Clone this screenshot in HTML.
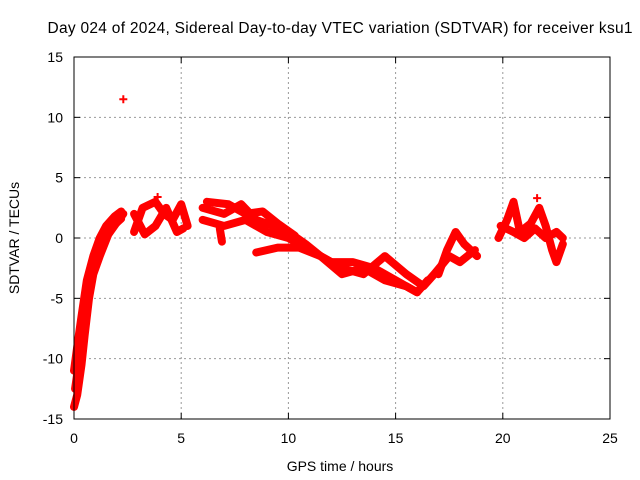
<!DOCTYPE html>
<html><head><meta charset="utf-8"><style>
body{margin:0;background:#fff}
svg{display:block;font-family:"Liberation Sans",sans-serif;font-size:14px}
</style></head><body>
<svg width="640" height="480">
<text x="340" y="33" text-anchor="middle" style="font-size:15.5px" textLength="585">Day 024 of 2024, Sidereal Day-to-day VTEC variation (SDTVAR) for receiver ksu1</text>
<g id="grid"></g>
<g id="ticks"></g>
<g id="marks"></g>
<rect x="74" y="57" width="536" height="362" fill="none" stroke="#000"/>
<text x="340" y="471" text-anchor="middle">GPS time / hours</text>
<text transform="translate(19,238) rotate(-90)" text-anchor="middle">SDTVAR / TECUs</text>
</svg>
<script>
const xTicks=[0,5,10,15,20,25];
const yTicks=[-15,-10,-5,0,5,10,15];
const trackRise1=[[0,-14],[0.15,-13],[0.35,-10.5],[0.5,-8],[0.7,-5],[0.9,-3],[1.2,-1.5],[1.6,0.3],[2,1.3],[2.3,2]];
const trackRise2=[[0,-11],[0.15,-9],[0.35,-6.5],[0.6,-3.5],[0.9,-1.5],[1.2,0],[1.5,1],[1.9,1.8],[2.2,2.2]];
const trackRise3=[[0.05,-12.5],[0.25,-10],[0.45,-7],[0.7,-4],[1.0,-2],[1.3,-0.5],[1.7,0.8],[2.2,1.6]];
const trackB1=[[2.8,0.5],[3.2,2.5],[3.8,3],[4.2,2],[4.6,1.5],[5,2.8],[5.3,1]];
const trackB2=[[2.8,2],[3.3,0.3],[3.8,1],[4.3,2.5],[4.8,0.5],[5.1,0.8]];
const trackC=[[6,2.5],[7,2],[7.8,2.8],[8.5,1.5],[9.3,1],[10,0.5],[10.8,-0.5],[11.5,-1.5],[12.5,-2.5],[13.5,-3],[14.5,-1.5],[15.5,-3],[16.3,-4],[16.8,-3],[17.5,-1.5],[18,-2],[18.7,-1]];
const trackD=[[6,1.5],[7,1],[8,1.5],[9,0.5],[10,0],[11,-1],[12,-2],[13,-2],[14,-2.5],[15,-3.5],[16,-4.5],[16.5,-3.5]];
const trackE=[[6.2,3],[7.2,2.8],[8,2],[8.8,2.2],[9.5,1.2],[10.3,0.2]];
const trackF=[[8.5,-1.2],[9.5,-0.8],[10.5,-0.8],[11.5,-1.5],[12.5,-3],[13.5,-2.5],[14.5,-3.5],[15.5,-4],[16,-4.5]];
const trackG=[[17,-3],[17.4,-1],[17.8,0.5],[18.2,-0.5],[18.8,-1.5]];
const trackH1=[[19.8,0],[20.2,1.5],[20.5,3],[20.8,0.5],[21.3,1.2],[21.7,2.5],[22,1],[22.3,-1],[22.5,-2],[22.8,-0.5]];
const trackH2=[[19.9,1],[20.5,0.5],[21,0],[21.5,0.8],[22,0],[22.5,0.5],[22.8,0]];
const trackDip=[[6.8,0.8],[6.9,-0.3]];
const outliers=[[2.3,11.5],[21.6,3.3],[3.9,3.4]];
const tracks=[trackRise1,trackRise2,trackRise3,trackB1,trackB2,trackC,trackD,trackE,trackF,trackG,trackH1,trackH2,trackDip];
const NS='http://www.w3.org/2000/svg';
const X=h=>74+h*536/25, Y=v=>238-v*362/30;
const grid=document.getElementById('grid'),ticks=document.getElementById('ticks'),marks=document.getElementById('marks');
function mk(t,a,p){const e=document.createElementNS(NS,t);for(const k in a)e.setAttribute(k,a[k]);p.appendChild(e);return e;}
xTicks.forEach(t=>{const x=X(t);
 if(t>0&&t<25){const l=mk('line',{x1:x,x2:x,y1:57,y2:419,stroke:'#999','stroke-dasharray':'2,3'},grid);
 
 }
 mk('line',{x1:x,x2:x,y1:419,y2:413,stroke:'#000'},ticks);mk('line',{x1:x,x2:x,y1:57,y2:63,stroke:'#000'},ticks);
 const tx=mk('text',{x:x,y:443,'text-anchor':'middle'},ticks);tx.textContent=t;
 
 });
yTicks.forEach(t=>{const y=Y(t);
 if(t>-15&&t<15){const l=mk('line',{x1:74,x2:610,y1:y,y2:y,stroke:'#999','stroke-dasharray':'2,3'},grid);
 
 }
 mk('line',{x1:74,x2:80,y1:y,y2:y,stroke:'#000'},ticks);mk('line',{x1:604,x2:610,y1:y,y2:y,stroke:'#000'},ticks);
 const tx=mk('text',{x:63,y:y+5,'text-anchor':'end'},ticks);tx.textContent=t;
 
 });
tracks.forEach(tr=>{const p=mk('polyline',{points:tr.map(d=>X(d[0])+','+Y(d[1])).join(' '),fill:'none',stroke:'#f00','stroke-width':8,'stroke-linejoin':'round','stroke-linecap':'round'},marks);
 
 });
outliers.forEach(d=>{const x=X(d[0]),y=Y(d[1]);const p=mk('path',{d:`M${x-4},${y}H${x+4}M${x},${y-4}V${y+4}`,stroke:'#f00','stroke-width':2},marks);
 
 });
</script>
</body></html>
